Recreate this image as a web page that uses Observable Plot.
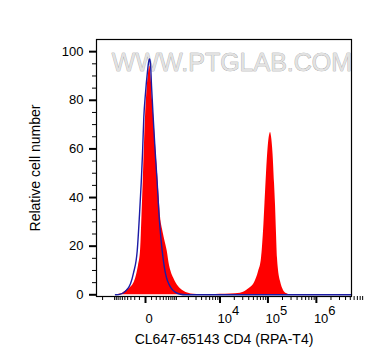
<!DOCTYPE html>
<html>
<head>
<meta charset="utf-8">
<script src="https://cdn.jsdelivr.net/npm/d3@7"></script>
<script src="https://cdn.jsdelivr.net/npm/@observablehq/plot@0.6"></script>
<style>
  html, body { margin: 0; padding: 0; background: #fff; }
  #chart { width: 378px; height: 364px; }
</style>
</head>
<body>
<div id="chart"></div>
<script>
// ---- data (fluorescence intensity, % of max) ----
const xTitle = "CL647-65143 CD4 (RPA-T4)";
const yTitle = "Relative cell number";
const watermark = "WWW.PTGLAB.COM";

// CD4-stained sample (red, filled)
const sampleX = [-947, -683, -476, -312, -230, -160, -118, -80, -54, -35, -15, 0, 22, 46, 68, 90, 118, 145, 182, 223, 269, 312, 372, 439, 541, 637, 731, 833, 1007, 1280, 1522, 2011, 2630, 3786, 6265, 10250, 16670, 26970, 31160, 35970, 43550, 52740, 63820, 73640, 81000, 87000, 93450, 100380, 107800, 113000, 118560, 127380, 136770, 143430, 150400, 157700, 165450, 181950, 209880, 241980, 292680, 371000];
const sampleY = [0, 0.3, 1.5, 3, 4.5, 8, 12, 18, 33, 46, 62, 73, 84, 91, 94, 90, 80, 73, 62, 52, 41, 32, 27, 23, 18, 12, 9, 7, 4.5, 2.5, 1.6, 0.6, 0.2, 0.1, 0.1, 0.2, 0.3, 0.6, 1, 1.8, 3, 5, 9.5, 15, 26, 38, 50, 60, 65.5, 66.8, 65, 58, 46, 37, 25, 15, 10, 5.5, 1.8, 0.5, 0, 0];

// Isotype control (blue line)
const controlX = [-947, -683, -476, -312, -230, -145, -99, -68, -46, -25, 0, 30, 46, 63, 80, 99, 132, 171, 223, 269, 312, 363, 439, 513, 607, 731, 947, 1280, 1703, 10000, 100000, 1000000, 5300000];
const controlY = [0, 0.3, 1.5, 4.5, 9, 18, 33, 46, 58, 73, 83, 92, 95.5, 97, 95, 86, 73, 60, 46, 33, 25, 18, 11, 7, 4.5, 2.5, 1, 0.2, 0, 0, 0, 0, 0];

// axis ticks
const xMajorTicks = [0, 1e4, 1e5, 1e6];
const xPowerTicks = [1e4, 1e5, 1e6];
const xMinorTicks = [];
for (const m of [1, 2, 3, 4, 5, 6, 7, 8, 9]) xMinorTicks.push(-m * 100, m * 100);
for (const e of [3, 4, 5, 6]) for (const m of [1, 2, 3, 4, 5, 6, 7, 8, 9]) xMinorTicks.push(m * 10 ** e);
xMinorTicks.push(-1000, -2000);
const yMajorTicks = [0, 20, 40, 60, 80, 100];
const yMinorTicks = [5, 10, 15, 25, 30, 35, 45, 50, 55, 65, 70, 75, 85, 90, 95];

const sample = sampleX.map((x, i) => ({x, y: sampleY[i]}));
const control = controlX.map((x, i) => ({x, y: controlY[i]}));

const chart = Plot.plot({
  width: 378,
  height: 364,
  marginLeft: 96,
  marginRight: 27,
  marginTop: 39,
  marginBottom: 68,
  style: {fontFamily: "'Liberation Sans', Arial, sans-serif", fontSize: "13px", color: "#000", background: "#fff"},
  x: {type: "symlog", constant: 300, domain: [-2773, 5.3e6], label: null},
  y: {domain: [-0.7, 105], label: null},
  marks: [
    Plot.text([watermark], {frameAnchor: "top", dx: 8, dy: 14, fontSize: 25, fill: "#e2e2e2", stroke: "#8f8f8f", strokeWidth: 0.6, letterSpacing: -0.6}),
    Plot.areaY(sample, {x: "x", y: "y", fill: "#ff0000", curve: "monotone-x"}),
    Plot.line(control, {x: "x", y: "y", stroke: "#1c1ca6", strokeWidth: 1.4, curve: "monotone-x"}),
    Plot.frame({stroke: "#000", strokeWidth: 1.2}),
    Plot.axisY({ticks: yMinorTicks, tickSize: 4, tickFormat: () => "", label: null}),
    Plot.axisY({ticks: yMajorTicks, tickSize: 7, strokeWidth: 2, tickPadding: 6, fontSize: 13, label: null}),
    Plot.axisX({ticks: xMinorTicks, tickSize: 4, tickFormat: () => "", label: null}),
    Plot.axisX({ticks: xMajorTicks, tickSize: 7, strokeWidth: 2, tickFormat: () => "", label: null}),
    Plot.axisX({ticks: [0], tickSize: 0, tickPadding: 17, dx: 3.5, fontSize: 13, tickFormat: () => "0", label: null}),
    Plot.axisX({ticks: xPowerTicks, tickSize: 0, tickPadding: 17, dx: -2.5, textAnchor: "start", fontSize: 13, tickFormat: d => "10^" + Math.round(Math.log10(d)), label: null}),
    Plot.text([xTitle], {frameAnchor: "bottom", dy: 43, lineAnchor: "middle", fontSize: 14}),
    Plot.text([yTitle], {frameAnchor: "left", dx: -61, rotate: -90, textAnchor: "middle", lineAnchor: "middle", fontSize: 14})
  ]
});

// render exponent labels as raised superscripts
const svgns = "http://www.w3.org/2000/svg";
chart.querySelectorAll("text").forEach(t => {
  const m = t.textContent.match(/^10\^(-?\d+)$/);
  if (m) {
    t.textContent = "10";
    const ts = document.createElementNS(svgns, "tspan");
    ts.setAttribute("dy", "-8");
    ts.textContent = m[1];
    t.appendChild(ts);
  }
});
document.getElementById("chart").appendChild(chart);
</script>
</body>
</html>
